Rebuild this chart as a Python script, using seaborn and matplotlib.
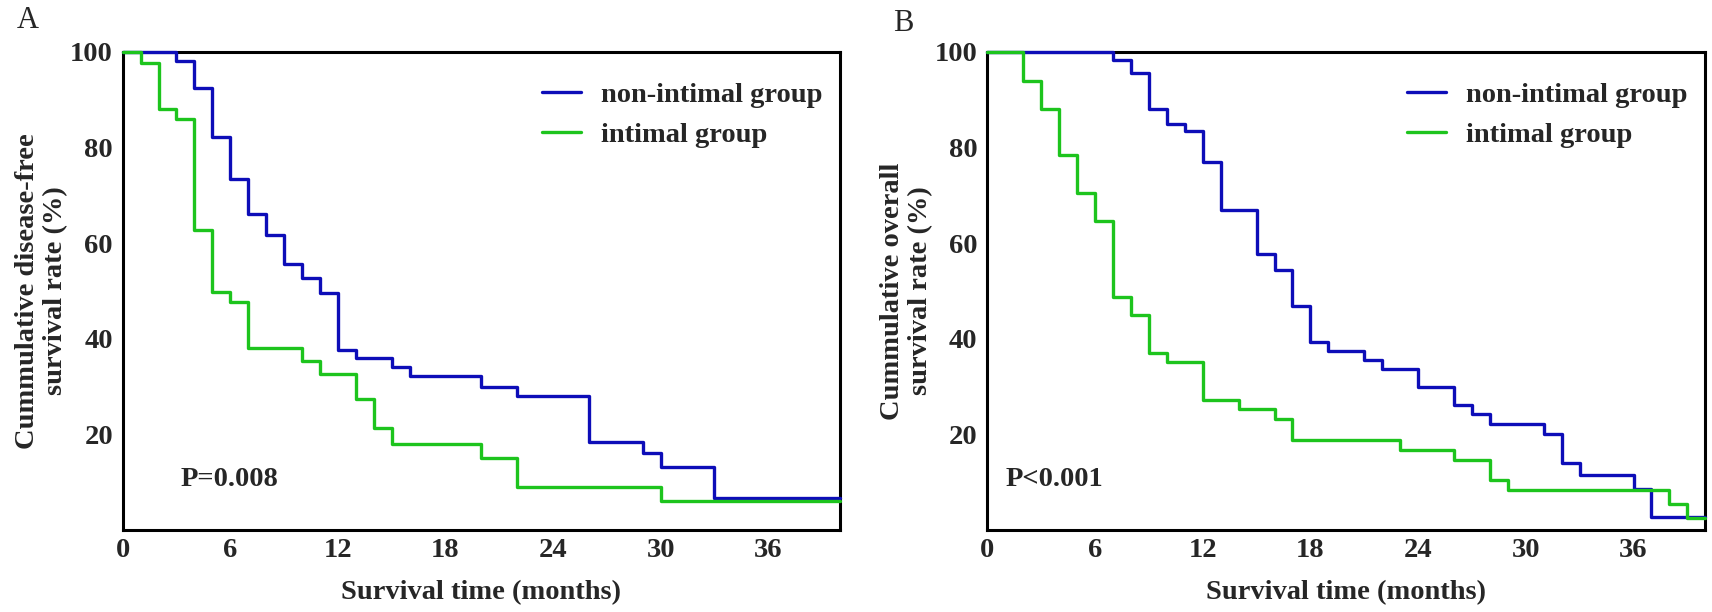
import matplotlib
matplotlib.use("Agg")
import matplotlib.pyplot as plt
import seaborn as sns
import pandas as pd

# ---------------- data ----------------
groups = ["non-intimal group", "intimal group"]

# Panel A: disease-free survival
a_non_t = [0, 3, 4, 5, 6, 7, 8, 9, 10, 11, 12, 13, 15, 16, 20, 22, 26, 29, 30, 33, 40]
a_non_s = [100, 98.1, 92.4, 82.2, 73.3, 66.0, 61.7, 55.6, 52.6, 49.5, 37.6, 36.0,
           34.0, 32.1, 30.0, 28.0, 18.4, 16.0, 13.2, 6.6, 6.6]
a_int_t = [0, 1, 2, 3, 4, 5, 6, 7, 10, 11, 13, 14, 15, 20, 22, 30, 40]
a_int_s = [100, 97.7, 88.0, 86.0, 62.8, 49.8, 47.7, 38.1, 35.4, 32.6, 27.3, 21.3,
           17.9, 15.1, 9.0, 6.0, 6.0]

# Panel B: overall survival
b_non_t = [0, 7, 8, 9, 10, 11, 12, 13, 15, 16, 17, 18, 19, 21, 22, 24, 26, 27, 28,
           31, 32, 33, 36, 37, 40]
b_non_s = [100, 98.3, 95.5, 88.1, 84.9, 83.5, 77.0, 66.9, 57.8, 54.4, 46.9, 39.3,
           37.4, 35.5, 33.7, 29.9, 26.1, 24.2, 22.1, 20.1, 14.1, 11.6, 8.6, 2.7, 2.7]
b_int_t = [0, 2, 3, 4, 5, 6, 7, 8, 9, 10, 12, 14, 16, 17, 23, 26, 28, 29, 38, 39, 40]
b_int_s = [100, 93.9, 88.1, 78.4, 70.4, 64.5, 48.8, 44.9, 37.1, 35.2, 27.2, 25.2,
           23.2, 18.8, 16.7, 14.6, 10.4, 8.3, 5.5, 2.6, 2.6]

x_ticks = [0, 6, 12, 18, 24, 30, 36]
y_ticks = [20, 40, 60, 80, 100]
panel_labels = ["A", "B"]
y_labels = ["Cummulative disease-free\nsurvival rate (%)",
            "Cummulative overall\nsurvival rate (%)"]
x_label = "Survival time (months)"
p_texts = ["P=0.008", "P<0.001"]

colors = {"non-intimal group": "#0D0DB8", "intimal group": "#1DC41D"}

# ---------------- style ----------------
sns.set_style("white")
plt.rcParams["font.family"] = ["Liberation Serif", "DejaVu Serif"]
plt.rcParams["font.weight"] = "bold"

fig = plt.figure(figsize=(17.12, 6.12), dpi=100)
W, H = 1712, 612
ax_a = fig.add_axes([122.7 / W, 1 - 530 / H, 717.3 / W, 478.3 / H])
ax_b = fig.add_axes([987.3 / W, 1 - 530 / H, 718.0 / W, 478.3 / H])

panels = [
    (ax_a, a_non_t, a_non_s, a_int_t, a_int_s, 3.2, 0.105),
    (ax_b, b_non_t, b_non_s, b_int_t, b_int_s, 1.0, 0.105),
]

FS = 20.5
for i, (ax, nt, ns, it, is_, px, py) in enumerate(panels):
    df = pd.concat([
        pd.DataFrame({"time": nt, "surv": ns, "group": groups[0]}),
        pd.DataFrame({"time": it, "surv": is_, "group": groups[1]}),
    ], ignore_index=True)
    sns.lineplot(data=df, x="time", y="surv", hue="group", hue_order=groups,
                 palette=colors, estimator=None, sort=False,
                 drawstyle="steps-post", linewidth=2.4, ax=ax, legend=False,
                 zorder=3, clip_on=False)
    ax.set_xlim(0, 40)
    ax.set_ylim(0, 100)
    ax.set_xticks(x_ticks)
    ax.set_yticks(y_ticks)
    ax.set_xticklabels([str(t) for t in x_ticks], fontsize=FS, fontweight="bold")
    ax.set_yticklabels([str(t) for t in y_ticks], fontsize=FS, fontweight="bold")
    ax.tick_params(axis="x", direction="in", length=7, width=2.2, pad=6)
    ax.tick_params(axis="y", direction="out", length=6, width=2.2, pad=1)
    for s in ax.spines.values():
        s.set_visible(True)
        s.set_linewidth(2.2)
        s.set_color("black")
    ax.set_xlabel(x_label, fontsize=FS, fontweight="bold", labelpad=12)
    ax.set_ylabel(y_labels[i], fontsize=FS, fontweight="bold", linespacing=1.15)
    ax.yaxis.set_label_coords(-0.076, 0.5)
    ax.grid(False)

    handles = ax.get_lines()[:2]
    ax.legend(handles, groups, loc="upper left", bbox_to_anchor=(0.585, 0.937),
              frameon=False, borderpad=0, borderaxespad=0,
              handlelength=1.35, handletextpad=0.7, labelspacing=0.49,
              prop={"family": "Liberation Serif", "weight": "bold", "size": FS})

    ax.text(px, py * 100, p_texts[i], fontsize=FS, fontweight="bold",
            ha="left", va="center")

fig.text(17 / W, 1 - 6 / H, panel_labels[0], fontsize=22, fontweight="normal",
         ha="left", va="top")
fig.text(893 / W, 1 - 9 / H, panel_labels[1], fontsize=22, fontweight="normal",
         ha="left", va="top")

fig.savefig("out.png", dpi=100, facecolor="white")
